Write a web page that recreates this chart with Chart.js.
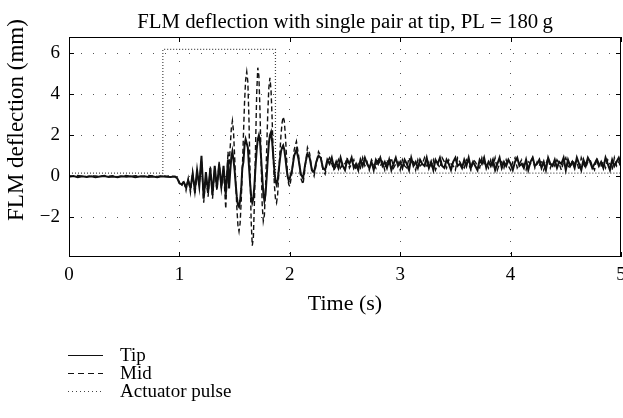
<!DOCTYPE html>
<html>
<head>
<meta charset="utf-8">
<script src="https://cdn.jsdelivr.net/npm/chart.js@4/dist/chart.umd.min.js"></script>
<style>
  html, body { margin: 0; padding: 0; background: #fff; }
  #wrap { width: 623px; height: 418px; }
</style>
</head>
<body>
<div id="wrap"><canvas id="chart_1" width="623" height="418"></canvas></div>
<script>
// sample times (s): coarse before the pulse, fine during the big swings
function span(from, to, step) {
  const out = [];
  const n = Math.round((to - from) / step);
  for (let i = 0; i <= n; i++) out.push(+(from + i * step).toFixed(3));
  return out;
}
const time = [
  ...span(0, 0.96, 0.04),
  ...span(0.98, 1.44, 0.02),
  ...span(1.45, 2.00, 0.01),
  ...span(2.02, 5.00, 0.02)
];

// FLM deflection at the tip (mm)
const tip = [
  // 0 - 0.96
  -0.03,0.01,-0.05,-0.01,-0.04,0.0,-0.05,-0.02,0.01,-0.04,-0.02,-0.05,0.0,-0.03,-0.01,-0.05,-0.02,0.0,-0.04,-0.02,-0.05,-0.01,-0.03,-0.04,-0.02,
  // 0.98 - 1.44
  -0.1,-0.35,-0.4,-0.3,-0.55,-0.2,-0.6,0.1,-0.7,0.3,-0.5,1.0,-1.1,0.2,-0.8,0.4,-0.9,0.5,-0.6,0.6,-0.5,0.5,-0.9,0.8,
  // 1.45 - 2.00
  -0.6,0.2,0.9,1.2,0.8,0.3,-0.4,-1.0,-1.4,-1.5,-1.2,-0.6,0.4,0.7,1.5,1.8,1.6,1.4,0.5,-0.3,-1.0,-1.3,-1.1,-0.4,0.5,1.3,
  1.8,2.0,1.7,0.9,0.0,-0.8,-1.2,-0.9,-0.1,0.8,1.6,2.0,2.15,1.7,1.0,0.3,-0.2,-0.4,-0.2,0.3,0.8,1.2,1.4,1.5,1.3,0.9,0.4,0.0,-0.2,-0.1,
  // 2.02 - 2.40
  0.3,1.0,1.3,0.8,0.1,-0.1,0.6,1.1,0.9,0.3,0.2,0.7,1.0,0.9,0.4,0.3,0.8,0.6,0.9,0.4,
  // 2.42 - 5.00
  0.7,0.4,0.9,0.5,0.3,0.8,0.6,0.9,0.4,0.6,
  0.3,0.8,0.5,0.9,0.6,0.4,0.7,0.3,0.8,0.6,
  0.9,0.5,0.7,0.4,0.8,0.3,0.6,0.9,0.5,0.7,
  0.4,0.8,0.6,0.3,0.9,0.5,0.7,0.4,0.8,0.6,
  0.5,0.9,0.4,0.7,0.3,0.8,0.6,0.9,0.5,0.4,
  0.8,0.6,0.3,0.7,0.9,0.5,0.6,0.4,0.8,0.5,
  0.9,0.4,0.7,0.5,0.3,0.8,0.6,0.9,0.4,0.7,
  0.5,0.8,0.3,0.6,0.9,0.4,0.7,0.5,0.8,0.6,
  0.3,0.7,0.9,0.5,0.6,0.4,0.8,0.3,0.7,0.9,
  0.5,0.6,0.8,0.4,0.7,0.3,0.9,0.6,0.5,0.8,
  0.4,0.7,0.6,0.9,0.3,0.8,0.5,0.7,0.4,0.9,
  0.6,0.3,0.8,0.5,0.9,0.7,0.4,0.6,0.8,0.5,
  0.7,0.4,0.9,0.6,0.3,0.8,0.5,0.7,0.9,0.6
];

// FLM deflection at mid span (mm)
const mid = [
  // 0 - 0.96
  0.02,-0.01,0.03,0.0,-0.02,0.02,0.01,-0.01,0.03,0.0,0.02,-0.02,0.01,0.03,-0.01,0.02,0.0,-0.02,0.03,0.01,-0.01,0.02,0.0,0.01,-0.02,
  // 0.98 - 1.44
  -0.05,-0.3,-0.5,-0.2,-0.7,-0.1,-0.8,0.2,-0.9,0.1,-0.4,0.8,-1.3,0.0,-1.0,0.5,-1.1,0.4,-0.7,0.7,-0.6,0.3,-1.6,1.2,
  // 1.45 - 2.00
  0.5,1.4,2.3,2.7,2.2,1.0,-0.3,-1.5,-2.4,-2.7,-2.3,-1.2,0.3,2.0,3.6,4.7,5.1,4.6,2.8,0.2,-2.2,-3.4,-3.0,-1.2,1.5,4.0,
  5.3,4.9,3.2,0.8,-1.4,-2.2,-1.9,-0.6,1.2,3.0,4.3,4.8,4.2,2.8,1.0,-0.4,-1.1,-1.3,-0.9,0.1,1.1,2.0,2.6,2.9,2.7,2.0,1.0,0.0,-0.4,-0.5,
  // 2.02 - 2.40
  0.2,1.3,1.7,1.0,-0.1,-0.4,0.5,1.4,1.1,0.3,0.0,0.6,1.2,1.0,0.3,0.1,0.7,0.9,0.6,0.3,
  // 2.42 - 5.00
  0.5,0.8,0.3,0.7,0.6,0.9,0.4,0.6,0.8,0.3,
  0.6,0.4,0.9,0.5,0.7,0.3,0.8,0.6,0.4,0.9,
  0.5,0.7,0.3,0.8,0.5,0.9,0.4,0.6,0.7,0.3,
  0.8,0.5,0.4,0.9,0.6,0.7,0.3,0.8,0.5,0.6,
  0.9,0.4,0.7,0.5,0.8,0.3,0.6,0.4,0.9,0.7,
  0.4,0.8,0.6,0.5,0.3,0.9,0.7,0.5,0.4,0.8,
  0.6,0.3,0.8,0.7,0.5,0.4,0.9,0.6,0.7,0.4,
  0.8,0.5,0.9,0.3,0.6,0.7,0.4,0.8,0.5,0.3,
  0.7,0.9,0.4,0.6,0.8,0.5,0.3,0.7,0.6,0.9,
  0.4,0.7,0.5,0.8,0.3,0.6,0.9,0.4,0.7,0.5,
  0.8,0.6,0.3,0.7,0.9,0.5,0.4,0.8,0.6,0.7,
  0.3,0.9,0.6,0.4,0.7,0.8,0.5,0.3,0.9,0.6,
  0.5,0.7,0.4,0.8,0.6,0.3,0.9,0.5,0.7,0.4
];

// actuator pulse (drawn on the same mm axis)
const pulseTime = [0, 0.85, 0.85, 1.87, 1.87, 5];
const pulse     = [0.15, 0.15, 6.2, 6.2, 0.15, 0.15];

const xTicks = [0, 1, 2, 3, 4, 5];
const yTicks = [-2, 0, 2, 4, 6];

const serif = '"Liberation Serif", "DejaVu Serif", serif';

const zip = (xs, ys) => xs.slice(0, ys.length).map((x, i) => ({ x, y: ys[i] }));

// box, inward ticks, titles and the legend (MATLAB look)
const decorations = {
  id: 'decorations',
  afterDraw(chart) {
    const { ctx, chartArea: a, scales: { x, y } } = chart;
    ctx.save();
    ctx.strokeStyle = '#000';
    ctx.lineWidth = 1;
    ctx.strokeRect(a.left + 0.5, a.top + 0.5, a.right - a.left - 1, a.bottom - a.top - 1);

    ctx.beginPath();
    xTicks.forEach(v => {
      const px = Math.round(x.getPixelForValue(v)) + 0.5;
      ctx.moveTo(px, a.bottom); ctx.lineTo(px, a.bottom - 5);
      ctx.moveTo(px, a.top); ctx.lineTo(px, a.top + 5);
    });
    yTicks.forEach(v => {
      const py = Math.round(y.getPixelForValue(v)) + 0.5;
      ctx.moveTo(a.left, py); ctx.lineTo(a.left + 5, py);
      ctx.moveTo(a.right, py); ctx.lineTo(a.right - 5, py);
    });
    ctx.stroke();

    ctx.fillStyle = '#000';
    ctx.textBaseline = 'alphabetic';
    ctx.textAlign = 'center';
    ctx.font = '20.8px ' + serif;
    ctx.fillText('FLM deflection with single pair at tip, PL = 180\u2009g', (a.left + a.right) / 2, 28);

    ctx.font = '22px ' + serif;
    ctx.fillText('Time (s)', (a.left + a.right) / 2, 310);

    ctx.save();
    ctx.font = '23px ' + serif;
    ctx.translate(23, 120);
    ctx.rotate(-Math.PI / 2);
    ctx.fillText('FLM deflection (mm)', 0, 0);
    ctx.restore();

    // legend, stacked under the plot
    ctx.textAlign = 'left';
    ctx.font = '19px ' + serif;
    const rows = [355, 373, 391];
    chart.data.datasets.forEach((ds, i) => {
      const yy = rows[i] + 0.5;
      ctx.save();
      ctx.strokeStyle = ds.borderColor;
      ctx.lineWidth = i === 2 ? 1 : 1.2;
      ctx.setLineDash(i === 0 ? [] : (i === 1 ? [6, 4] : [1, 3]));
      ctx.beginPath();
      ctx.moveTo(68, yy); ctx.lineTo(103, yy);
      ctx.stroke();
      ctx.restore();
      ctx.fillText(ds.label, 120, rows[i] + 6);
    });
    ctx.restore();
  }
};

const chartData = {
  datasets: [
    {
      label: 'Tip',
      data: zip(time, tip),
      borderColor: '#111',
      borderWidth: 2,
      pointRadius: 0
    },
    {
      label: 'Mid',
      data: zip(time, mid),
      borderColor: '#111',
      borderWidth: 1.4,
      borderDash: [5, 3],
      pointRadius: 0
    },
    {
      label: 'Actuator pulse',
      data: zip(pulseTime, pulse),
      borderColor: '#444',
      borderWidth: 1.2,
      borderDash: [1, 2],
      pointRadius: 0
    }
  ]
};

const gridColor = c => (c.tick && (c.tick.value === 0 || c.tick.value === 5) && c.scale.axis === 'x') ? 'rgba(0,0,0,0)' : '#555';

const config = {
  type: 'line',
  data: chartData,
  options: {
    responsive: false,
    animation: false,
    layout: { padding: { top: 37, right: 2, left: 0, bottom: 121 } },
    plugins: {
      legend: { display: false },
      tooltip: { enabled: false }
    },
    elements: { line: { tension: 0 } },
    scales: {
      x: {
        type: 'linear',
        min: 0,
        max: 5,
        ticks: { stepSize: 1, color: '#000', padding: 7, font: { family: serif, size: 19 } },
        grid: { color: gridColor, drawTicks: false, lineWidth: 1 },
        border: { display: false, dash: [1, 11] },
        afterFit(s) { s.height = 40; s.paddingLeft = 0; s.paddingRight = 0; }
      },
      y: {
        min: -3.95,
        max: 6.8,
        afterBuildTicks(s) { s.ticks = yTicks.map(v => ({ value: v })); },
        ticks: {
          color: '#000',
          padding: 9,
          font: { family: serif, size: 19 },
          callback: v => (v < 0 ? '\u2212' + Math.abs(v) : String(v))
        },
        grid: { color: gridColor, drawTicks: false, lineWidth: 1 },
        border: { display: false, dash: [1, 11] },
        afterFit(s) { s.width = 69; s.paddingTop = 0; s.paddingBottom = 0; }
      }
    }
  },
  plugins: [decorations]
};

const chart_1 = new Chart(document.getElementById('chart_1'), config);
</script>
</body>
</html>
